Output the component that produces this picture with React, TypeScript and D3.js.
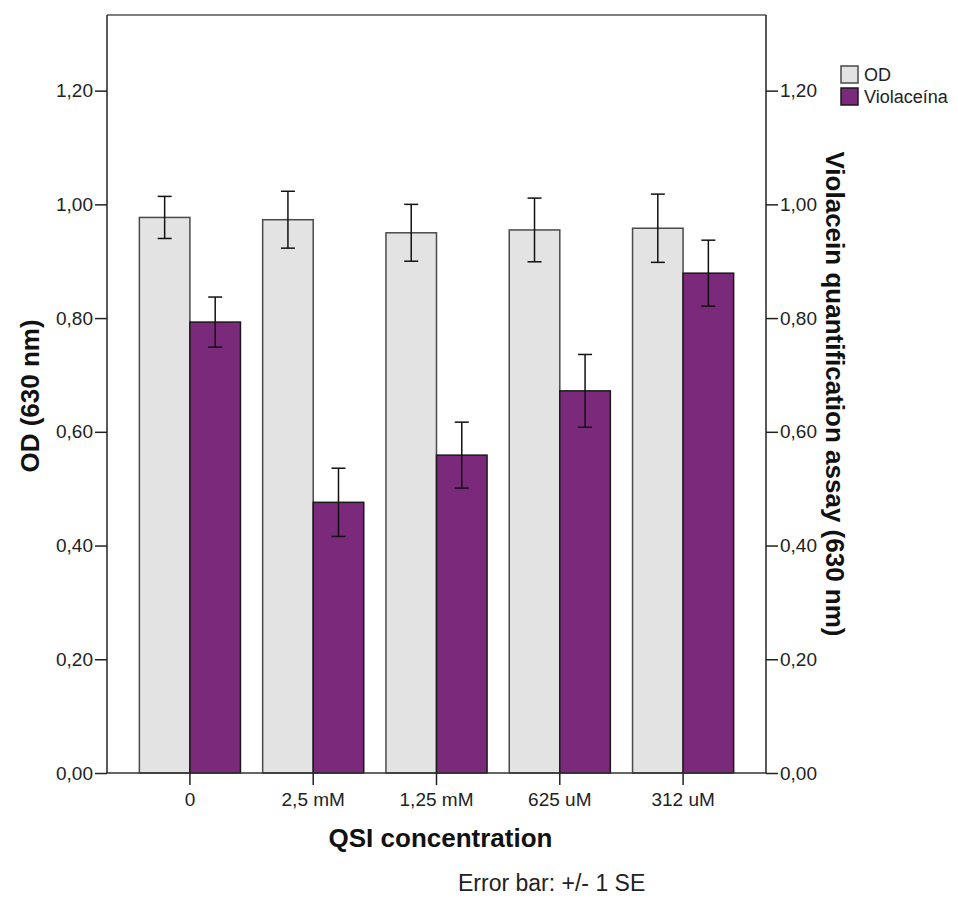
import React from "react";
import * as d3 from "d3";

const categories = ["0", "2,5 mM", "1,25 mM", "625 uM", "312 uM"];
const seriesNames = ["OD", "Violaceína"];
const odMeans = [0.977, 0.973, 0.95, 0.955, 0.958];
const odSE = [0.037, 0.05, 0.05, 0.056, 0.06];
const violMeans = [0.793, 0.476, 0.559, 0.672, 0.879];
const violSE = [0.044, 0.06, 0.058, 0.064, 0.058];
const yTicks = [0, 0.2, 0.4, 0.6, 0.8, 1.0, 1.2];

const width = 958;
const height = 899;
const margin = { top: 15, right: 192, bottom: 126, left: 107 };
const colors = ["#e3e3e3", "#7b297b"];
const strokes = ["#4a4a4a", "#1a1a1a"];
const font = "'Liberation Sans', Arial, sans-serif";

const fmt = (d: number) => d3.format(".2f")(d).replace(".", ",");

export default function App() {
  const leftRef = React.useRef<SVGGElement>(null);
  const rightRef = React.useRef<SVGGElement>(null);
  const bottomRef = React.useRef<SVGGElement>(null);

  const x = d3
    .scaleBand<string>()
    .domain(categories)
    .range([margin.left, width - margin.right])
    .paddingInner(0.18)
    .paddingOuter(0.2625);
  const xInner = d3.scaleBand<string>().domain(seriesNames).range([0, x.bandwidth()]);
  const y = d3.scaleLinear().domain([0, 1.333]).range([height - margin.bottom, margin.top]);

  const rows = categories.flatMap((c, i) => [
    { cat: c, s: seriesNames[0], k: 0, m: odMeans[i], se: odSE[i] },
    { cat: c, s: seriesNames[1], k: 1, m: violMeans[i], se: violSE[i] },
  ]);

  React.useEffect(() => {
    const style = (g: any) => {
      g.selectAll("text").attr("font-family", font).attr("font-size", 19).attr("fill", "#222");
      g.selectAll("line").attr("stroke", "#222").attr("stroke-width", 1.5);
      g.select(".domain").remove();
    };
    d3.select(leftRef.current)
      .call(d3.axisLeft(y).tickValues(yTicks).tickFormat(fmt as any).tickSize(12).tickPadding(2).tickSizeOuter(0))
      .call(style);
    d3.select(rightRef.current)
      .call(d3.axisRight(y).tickValues(yTicks).tickFormat(fmt as any).tickSize(12).tickPadding(2).tickSizeOuter(0))
      .call(style);
    d3.select(bottomRef.current)
      .call(d3.axisBottom(x).tickSize(12).tickPadding(8).tickSizeOuter(0))
      .call(style);
  }, []);

  const x0 = margin.left;
  const x1 = width - margin.right;
  const yb = height - margin.bottom;

  return (
    <svg width={width} height={height} style={{ position: "absolute", left: 0, top: 0, background: "#fff" }}>
      {/* frame */}
      <line x1={x0} x2={x1} y1={margin.top} y2={margin.top} stroke="#555" strokeWidth={1.5} />
      {rows.map((d, i) => (
        <rect
          key={i}
          x={(x(d.cat) as number) + (xInner(d.s) as number)}
          y={y(d.m)}
          width={xInner.bandwidth()}
          height={yb - y(d.m)}
          fill={colors[d.k]}
          stroke={strokes[d.k]}
          strokeWidth={1.5}
        />
      ))}
      {rows.map((d, i) => {
        const cx = (x(d.cat) as number) + (xInner(d.s) as number) + xInner.bandwidth() / 2;
        return (
          <g key={"e" + i} stroke="#111" strokeWidth={1.5}>
            <line x1={cx} x2={cx} y1={y(d.m + d.se)} y2={y(d.m - d.se)} />
            <line x1={cx - 7} x2={cx + 7} y1={y(d.m + d.se)} y2={y(d.m + d.se)} />
            <line x1={cx - 7} x2={cx + 7} y1={y(d.m - d.se)} y2={y(d.m - d.se)} />
          </g>
        );
      })}
      <line x1={x0} x2={x0} y1={margin.top} y2={yb} stroke="#222" strokeWidth={1.5} />
      <line x1={x1} x2={x1} y1={margin.top} y2={yb} stroke="#222" strokeWidth={1.5} />
      <line x1={x0} x2={x1} y1={yb} y2={yb} stroke="#333" strokeWidth={1.5} />
      <g ref={leftRef} transform={`translate(${x0},0)`} />
      <g ref={rightRef} transform={`translate(${x1},0)`} />
      <g ref={bottomRef} transform={`translate(0,${yb})`} />

      {/* titles */}
      <text
        transform={`translate(39,${(margin.top + yb) / 2 + 2}) rotate(-90)`}
        textAnchor="middle"
        fontFamily={font}
        fontWeight="bold"
        fontSize={26}
        fill="#111"
      >
        OD (630 nm)
      </text>
      <text
        transform={`translate(826,${(margin.top + yb) / 2}) rotate(90)`}
        textAnchor="middle"
        fontFamily={font}
        fontWeight="bold"
        fontSize={26}
        fill="#111"
      >
        Violacein quantification assay (630 nm)
      </text>
      <text x={(x0 + x1) / 2 + 4} y={847} textAnchor="middle" fontFamily={font} fontWeight="bold" fontSize={26} fill="#111">
        QSI concentration
      </text>
      <text x={458} y={891} fontFamily={font} fontSize={23} fill="#222">
        Error bar: +/- 1 SE
      </text>

      {/* legend */}
      {seriesNames.map((s, i) => (
        <g key={s} transform={`translate(841,${66 + i * 22})`}>
          <rect width={17} height={17} fill={colors[i]} stroke={strokes[i]} strokeWidth={1.5} />
          <text x={23} y={15} fontFamily={font} fontSize={18} fill="#222">
            {s}
          </text>
        </g>
      ))}
    </svg>
  );
}
